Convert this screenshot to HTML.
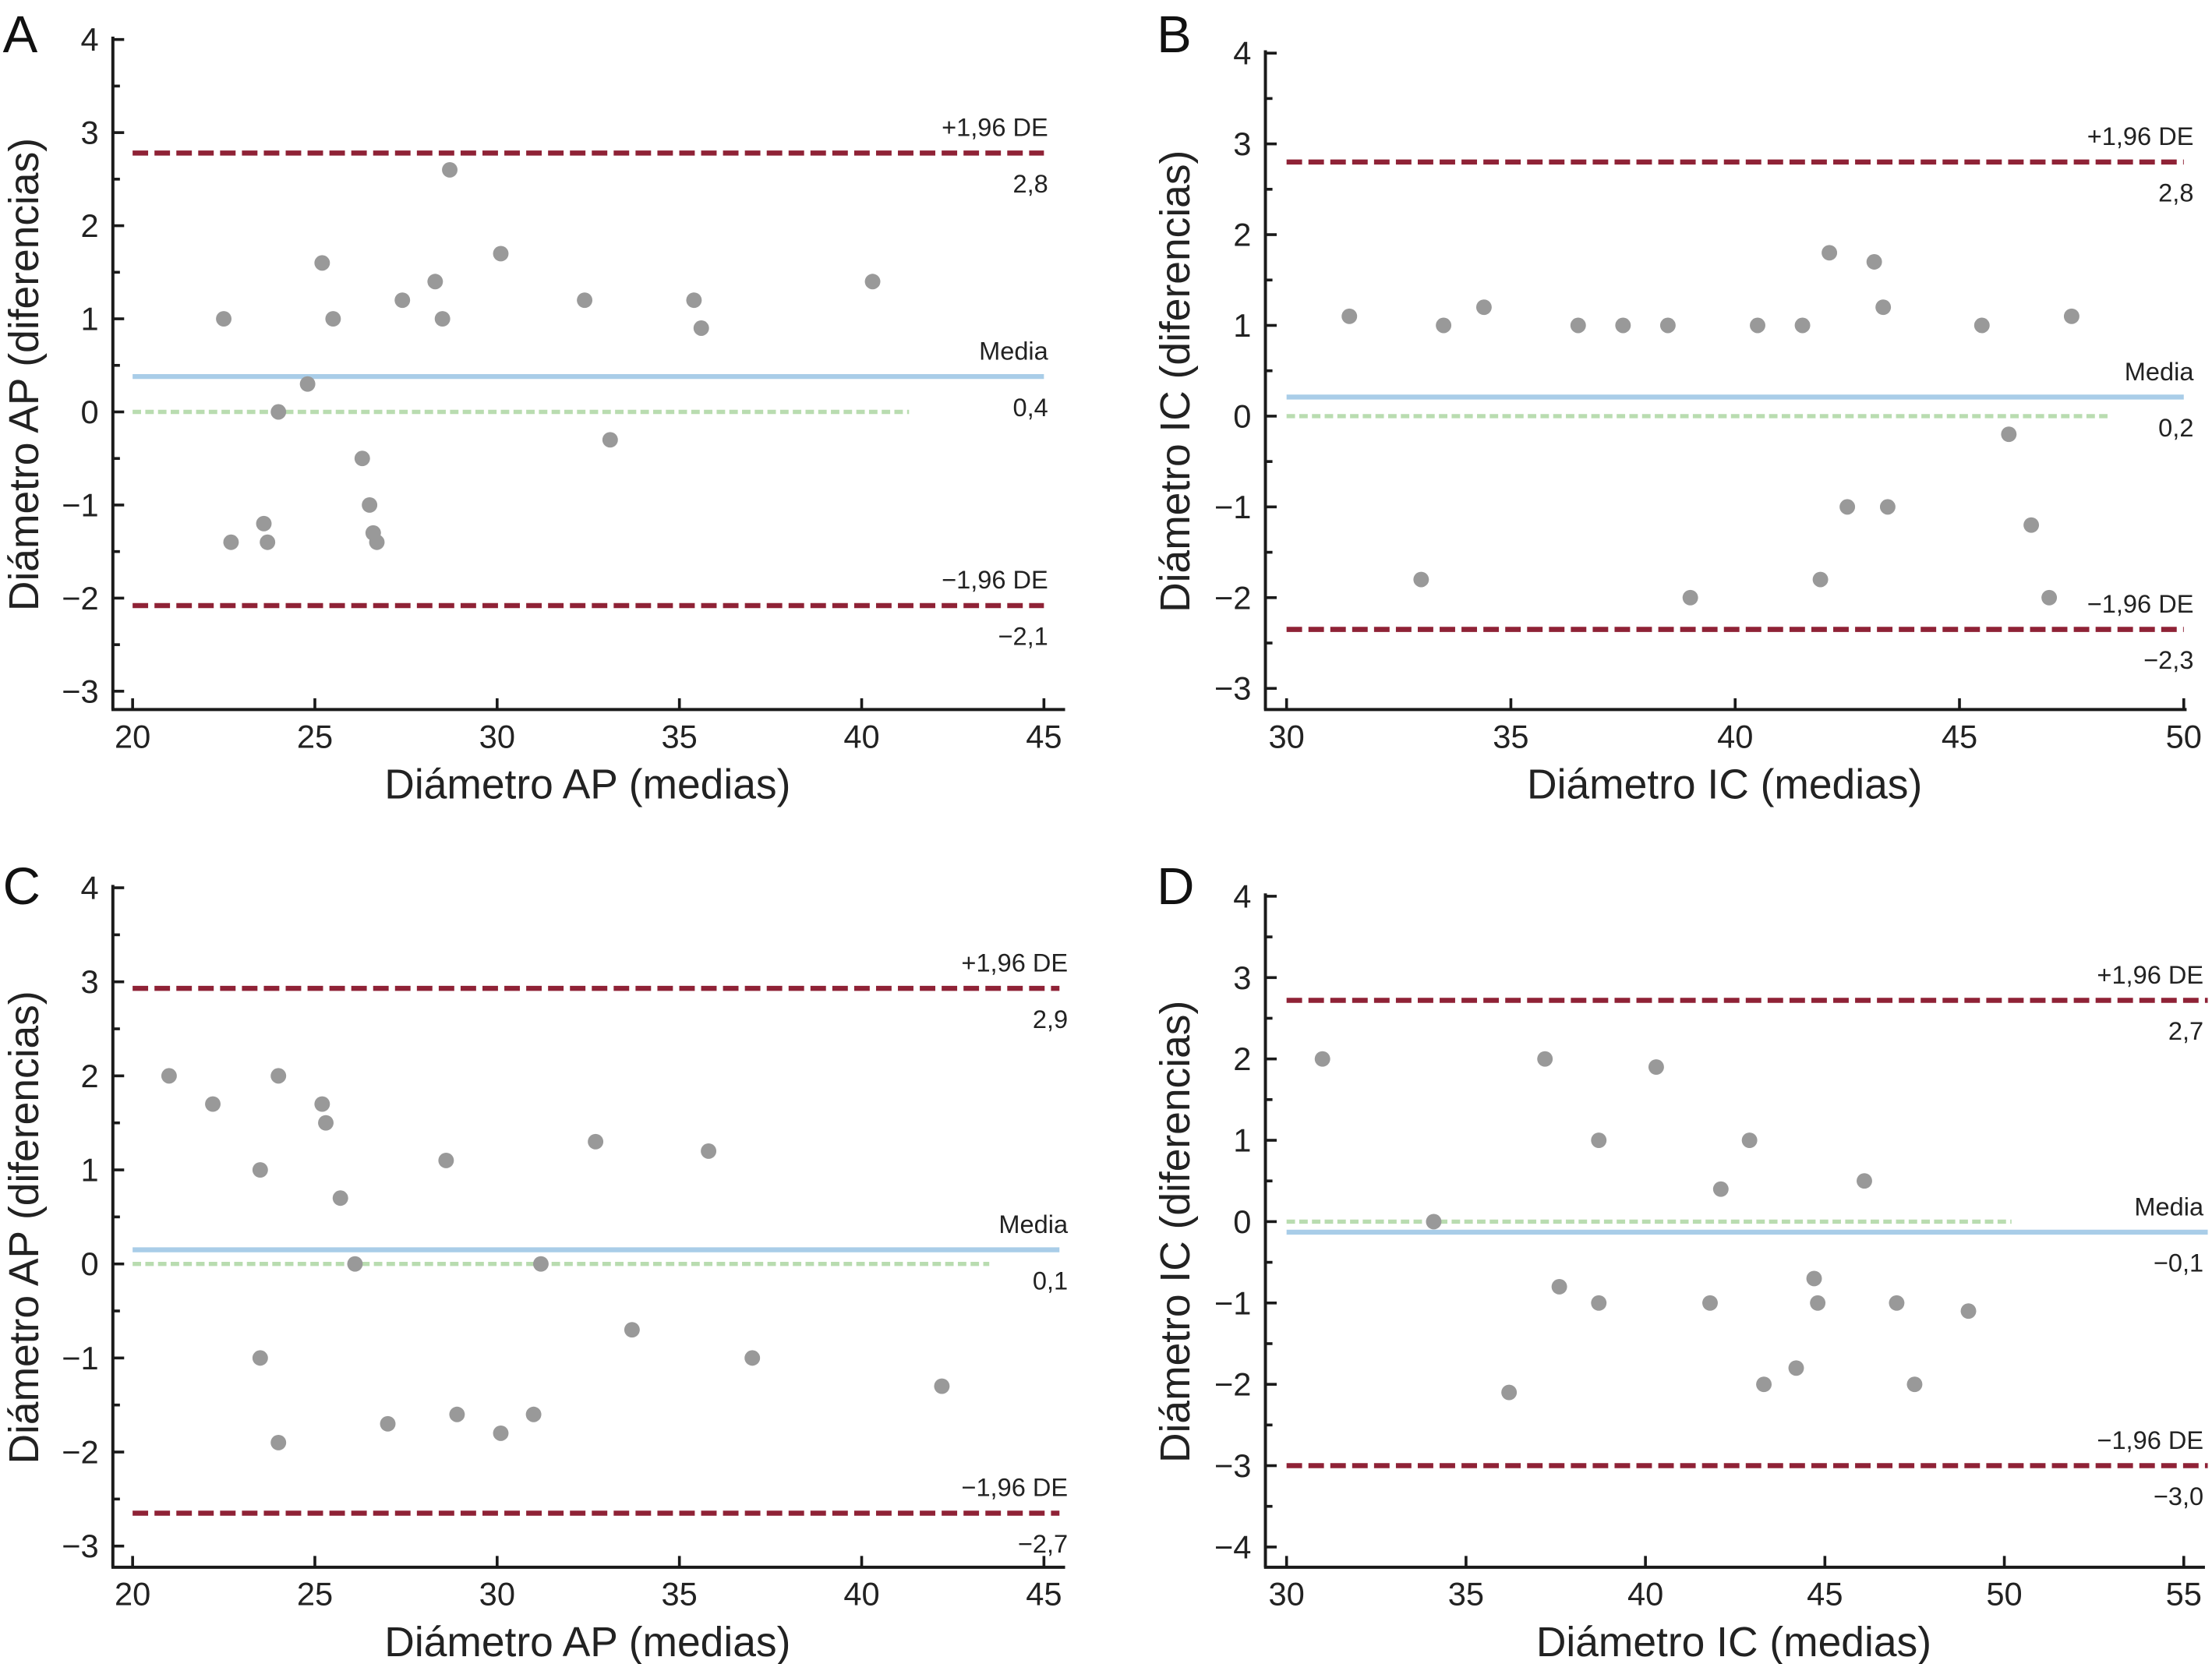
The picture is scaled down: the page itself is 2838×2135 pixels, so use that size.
<!DOCTYPE html>
<html><head><meta charset="utf-8"><style>html,body{margin:0;padding:0;background:#fff}svg{display:block}</style></head>
<body>
<svg id="chart" xmlns="http://www.w3.org/2000/svg" width="2838" height="2135" viewBox="0 0 1568 1179.6" font-family="Liberation Sans, sans-serif"></svg>
<script>
// Panel A data
const aX=[22.5,22.7,23.6,23.7,24,24.8,25.2,25.5,26.3,26.5,26.6,26.7,27.4,28.3,28.5,28.7,30.1,32.4,33.1,35.4,35.6,40.3];
const aY=[1,-1.4,-1.2,-1.4,0,0.3,1.6,1,-0.5,-1,-1.3,-1.4,1.2,1.4,1,2.6,1.7,1.2,-0.3,1.2,0.9,1.4];
const aLines=[2.78,0.38,-2.08];
const aLabels=["2,8","0,4","\u22122,1"];
// Panel B data
const bX=[31.4,33,33.5,34.4,36.5,37.5,38.5,39,40.5,41.5,41.9,42.1,42.5,43.1,43.3,43.4,45.5,46.1,46.6,47,47.5];
const bY=[1.1,-1.8,1,1.2,1,1,1,-2,1,1,-1.8,1.8,-1,1.7,1.2,-1,1,-0.2,-1.2,-2,1.1];
const bLines=[2.8,0.21,-2.35];
const bLabels=["2,8","0,2","\u22122,3"];
// Panel C data
const cX=[21,22.2,23.5,23.5,24,24,25.2,25.3,25.7,26.1,27,28.6,28.9,30.1,31,31.2,32.7,33.7,35.8,37,42.2];
const cY=[2,1.7,1,-1,2,-1.9,1.7,1.5,0.7,0,-1.7,1.1,-1.6,-1.8,-1.6,0,1.3,-0.7,1.2,-1,-1.3];
const cLines=[2.93,0.15,-2.65];
const cLabels=["2,9","0,1","\u22122,7"];
// Panel D data
const dX=[31,34.1,36.2,37.2,37.6,38.7,38.7,40.3,41.8,42.1,42.9,43.3,44.2,44.7,44.8,46.1,47,47.5,49];
const dY=[2,0,-2.1,2,-0.8,1,-1,1.9,-1,0.4,1,-2,-1.8,-0.7,-1,0.5,-1,-2,-1.1];
const dLines=[2.72,-0.13,-3.0];
const dLabels=["2,7","\u22120,1","\u22123,0"];
const xTicksAP=[20,25,30,35,40,45];
const xTicksIC1=[30,35,40,45,50];
const xTicksIC2=[30,35,40,45,50,55];

const NS="http://www.w3.org/2000/svg";
const svg=document.getElementById('chart');
function mk(tag,attrs,parent,text){const e=document.createElementNS(NS,tag);for(const k in attrs)e.setAttribute(k,attrs[k]);if(text!==undefined)e.textContent=text;(parent||svg).appendChild(e);return e;}
function fmt(v){return v<0?'\u2212'+(-v):''+v;}

function panel(o){
  const g=mk('g',{});
  
  
  const sx=v=>o.x0+(v-o.xv0)*(o.x1-o.x0)/(o.xv1-o.xv0);
  const sy=v=>o.y0+(v-o.yv0)*(o.y1-o.y0)/(o.yv1-o.yv0);
  const ax=o.axisX, ay=o.axisY;
  const yl=mk('line',{x1:ax,y1:sy(o.ymax)-2,x2:ax,y2:ay,stroke:'#1a1a1a','stroke-width':2.2},g);
  
  const xl=mk('line',{x1:ax-1,y1:ay,x2:o.xEnd,y2:ay,stroke:'#1a1a1a','stroke-width':2.2},g);
  
  for(let v=o.ymin;v<=o.ymax;v++){
    const y=sy(v);
    mk('line',{x1:ax,y1:y,x2:ax+8,y2:y,stroke:'#1a1a1a','stroke-width':2},g);
    const t=mk('text',{x:ax-10,y:y+8,'text-anchor':'end','font-size':23,fill:'#222'},g,fmt(v));
    
    if(v<o.ymax){mk('line',{x1:ax,y1:sy(v+0.5),x2:ax+5,y2:sy(v+0.5),stroke:'#1a1a1a','stroke-width':2},g);}
  }
  o.xt.forEach(v=>{
    const x=sx(v);
    mk('line',{x1:x,y1:ay,x2:x,y2:ay-8,stroke:'#1a1a1a','stroke-width':2},g);
    const t=mk('text',{x:x,y:ay+27,'text-anchor':'middle','font-size':23,fill:'#222'},g,v);
    
  });
  const xt=mk('text',{x:(ax+o.xEnd)/2-1,y:ay+63,'text-anchor':'middle','font-size':29.5,fill:'#222'},g,o.xTitle);
  
  const cy=(sy(o.ymax)+ay)/2;
  const yt=mk('text',{x:0,y:0,'text-anchor':'middle','font-size':29.5,fill:'#222',transform:`translate(${o.yTitleX},${cy}) rotate(-90)`},g,o.yTitle);
  
  const pl=mk('text',{x:o.letterX,y:o.letterY,'font-size':37,fill:'#111'},g,o.letter);
  
  const zl=mk('line',{x1:sx(o.xv0),y1:sy(0),x2:sx(o.greenEnd),y2:sy(0),stroke:'#b9dcb0','stroke-width':3,'stroke-dasharray':'6 3'},g);
  
  const ml=mk('line',{x1:sx(o.xv0),y1:sy(o.lines[1]),x2:o.lineEnd,y2:sy(o.lines[1]),stroke:'#a9cde8','stroke-width':3.5},g);
  
  [0,2].forEach(i=>{
    const l=mk('line',{x1:sx(o.xv0),y1:sy(o.lines[i]),x2:o.lineEnd,y2:sy(o.lines[i]),stroke:'#8f2236','stroke-width':3.6,'stroke-dasharray':'11 4.5'},g);
    
  });
  const names=['+1,96 DE','Media','\u22121,96 DE'];
  [0,1,2].forEach(i=>{
    const y=sy(o.lines[i]);
    const t1=mk('text',{x:o.labelX,y:y-12,'text-anchor':'end','font-size':18,fill:'#222'},g,names[i]);
    
    const t2=mk('text',{x:o.labelX,y:y+28,'text-anchor':'end','font-size':18,fill:'#222'},g,o.labels[i]);
    
  });
  o.px.forEach((v,i)=>{
    const c=mk('circle',{cx:sx(v),cy:sy(o.py[i]),r:5.5,fill:'#999'},g);
    
  });
}

panel({letter:'A',letterX:2,letterY:37,x0:94,x1:740,xv0:20,xv1:45,y0:292,y1:94,yv0:0,yv1:3,ymin:-3,ymax:4,axisX:80,axisY:503,xEnd:755,
 xt:xTicksAP,xTitle:'Diámetro AP (medias)',yTitle:'Diámetro AP (diferencias)',yTitleX:27,greenEnd:41.3,lineEnd:740,labelX:743,
 lines:aLines,labels:aLabels,px:aX,py:aY});
panel({letter:'B',letterX:820,letterY:37,x0:912,x1:1548,xv0:30,xv1:50,y0:295,y1:102,yv0:0,yv1:3,ymin:-3,ymax:4,axisX:897,axisY:503,xEnd:1550,
 xt:xTicksIC1,xTitle:'Diámetro IC (medias)',yTitle:'Diámetro IC (diferencias)',yTitleX:843,greenEnd:48.3,lineEnd:1548,labelX:1555,
 lines:bLines,labels:bLabels,px:bX,py:bY});
panel({letter:'C',letterX:2,letterY:641,x0:94,x1:740,xv0:20,xv1:45,y0:896,y1:696,yv0:0,yv1:3,ymin:-3,ymax:4,axisX:80,axisY:1111,xEnd:755,
 xt:xTicksAP,xTitle:'Diámetro AP (medias)',yTitle:'Diámetro AP (diferencias)',yTitleX:27,greenEnd:43.5,lineEnd:751,labelX:757,
 lines:cLines,labels:cLabels,px:cX,py:cY});
panel({letter:'D',letterX:820,letterY:641,x0:912,x1:1548,xv0:30,xv1:55,y0:866,y1:693,yv0:0,yv1:3,ymin:-4,ymax:4,axisX:897,axisY:1111,xEnd:1563,
 xt:xTicksIC2,xTitle:'Diámetro IC (medias)',yTitle:'Diámetro IC (diferencias)',yTitleX:843,greenEnd:50.2,lineEnd:1565,labelX:1562,
 lines:dLines,labels:dLabels,px:dX,py:dY});
</script>
</body></html>
